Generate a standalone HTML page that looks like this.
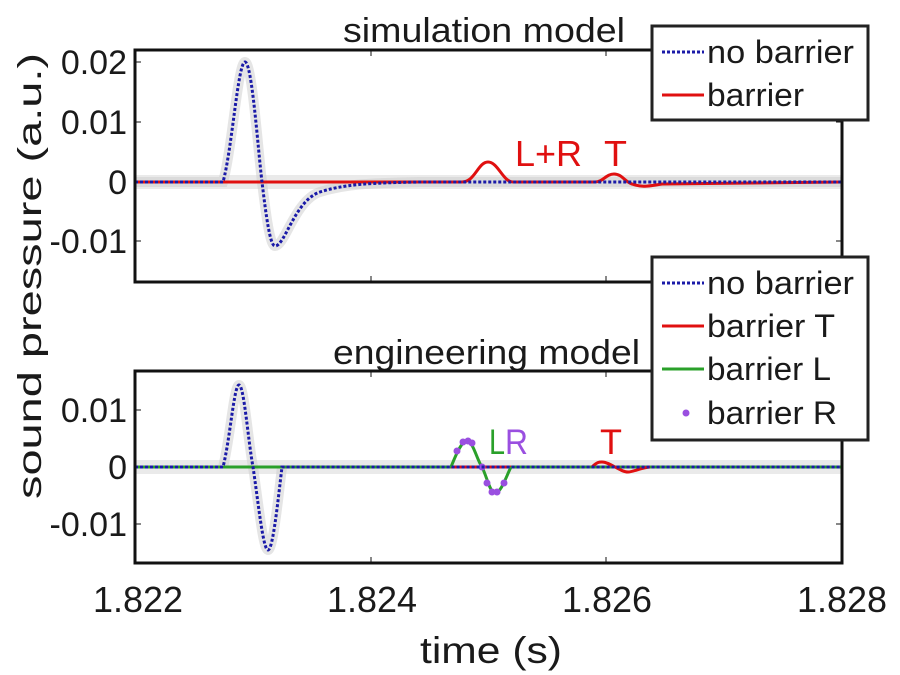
<!DOCTYPE html>
<html><head><meta charset="utf-8"><style>
html,body{margin:0;padding:0;background:#fff;width:900px;height:675px;overflow:hidden}
svg text{font-family:"Liberation Sans",sans-serif;fill:#1a1a1a}
</style></head><body>
<svg width="900" height="675" viewBox="0 0 900 675" xmlns="http://www.w3.org/2000/svg">
<!-- titles -->
<text x="343" y="42" font-size="34" textLength="282" lengthAdjust="spacingAndGlyphs">simulation model</text>
<text x="333" y="364" font-size="34" textLength="307" lengthAdjust="spacingAndGlyphs">engineering model</text>

<!-- top axes -->
<g>
<path d="M135 182 L842 182" stroke="#ddd" stroke-width="14" opacity="0.6"/>
<path d="M135 182 L223 182 C232 150,238 62,245 62 C252 62,258 150,262 182 C266 215,270 246,275 246 C285 246,295 200,320 192 S370 183,420 182 L842 182" stroke="#ccc" stroke-width="10" fill="none" opacity="0.5"/>
<path d="M135 182 L462 182 C475 182,478 162,488 162 C498 162,503 182,513 182 L595 182 C603 182,606 174,614 174 C622 174,625 182,632 184 C640 187,645 187,662 184 L842 182" stroke="#e01010" stroke-width="3" fill="none"/>
<path d="M135 182 L223 182 C232 150,238 62,245 62 C252 62,258 150,262 182 C266 215,270 246,275 246 C285 246,295 200,320 192 S370 183,420 182 L842 182" stroke="#1a1aa8" stroke-width="3" stroke-dasharray="3 2" fill="none"/>
<rect x="135" y="50" width="707" height="232" fill="none" stroke="#111" stroke-width="3"/>
<g stroke="#111" stroke-width="1">
<line x1="135" y1="62" x2="141" y2="62"/><line x1="135" y1="122" x2="141" y2="122"/><line x1="135" y1="241" x2="141" y2="241"/>
<line x1="842" y1="122" x2="836" y2="122"/><line x1="842" y1="241" x2="836" y2="241"/>
<line x1="371" y1="282" x2="371" y2="276"/><line x1="606" y1="282" x2="606" y2="276"/>
<line x1="371" y1="50" x2="371" y2="56"/><line x1="606" y1="50" x2="606" y2="56"/>
</g>
<text x="515" y="166" font-size="36" style="fill:#e01010" textLength="67" lengthAdjust="spacingAndGlyphs">L+R</text>
<text x="604" y="166" font-size="36" style="fill:#e01010" textLength="23" lengthAdjust="spacingAndGlyphs">T</text>
</g>

<!-- bottom axes -->
<g>
<path d="M135 467 L842 467" stroke="#ddd" stroke-width="14" opacity="0.6"/>
<path d="M223 467 C230 440,234 385,239 385 C244 385,248 440,253 467 C258 500,263 550,268 550 C273 550,278 500,282 467" stroke="#ccc" stroke-width="10" fill="none" opacity="0.5"/>
<path d="M135 467 L842 467" stroke="#2aa02a" stroke-width="3"/>
<path d="M451 467 L511 467" stroke="#e01010" stroke-width="3"/>
<path d="M592 467 C597 462,599 462,602 462 C610 462,620 472,628 472 C633 472,640 468,650 467" stroke="#e01010" stroke-width="3" fill="none"/>
<path d="M451 467 C457 452,462 441,467 441 C473 441,477 460,482 467 C487 477,490 493,495 493 C501 493,506 477,511 467" stroke="#2aa02a" stroke-width="3" fill="none"/>
<g fill="#9a4fe0">
<circle cx="457" cy="451" r="3.5"/><circle cx="463" cy="442" r="3.5"/><circle cx="468" cy="441" r="3.5"/><circle cx="472" cy="443" r="3.5"/>
<circle cx="482" cy="467" r="3.5"/><circle cx="487" cy="483" r="3.5"/><circle cx="492" cy="492" r="3.5"/><circle cx="497" cy="492" r="3.5"/><circle cx="504" cy="483" r="3.5"/>
</g>
<path d="M135 467 L223 467 C230 440,234 385,239 385 C244 385,248 440,253 467 C258 500,263 550,268 550 C273 550,278 500,282 467 L842 467" stroke="#1a1aa8" stroke-width="3" stroke-dasharray="3 2" fill="none"/>
<rect x="135" y="371" width="707" height="192" fill="none" stroke="#111" stroke-width="3"/>
<g stroke="#111" stroke-width="1">
<line x1="135" y1="410" x2="141" y2="410"/><line x1="135" y1="524" x2="141" y2="524"/>
<line x1="842" y1="410" x2="836" y2="410"/><line x1="842" y1="524" x2="836" y2="524"/>
<line x1="371" y1="563" x2="371" y2="557"/><line x1="606" y1="563" x2="606" y2="557"/>
<line x1="371" y1="371" x2="371" y2="377"/><line x1="606" y1="371" x2="606" y2="377"/>
</g>
<text x="489" y="454" font-size="35" style="fill:#2aa02a" textLength="16" lengthAdjust="spacingAndGlyphs">L</text>
<text x="505" y="454" font-size="35" style="fill:#9a4fe0" textLength="23" lengthAdjust="spacingAndGlyphs">R</text>
<text x="600" y="454" font-size="35" style="fill:#e01010" textLength="22" lengthAdjust="spacingAndGlyphs">T</text>
</g>

<!-- legend 1 -->
<rect x="652" y="26" width="216" height="94" fill="#fff" stroke="#222" stroke-width="3"/>
<line x1="662" y1="52" x2="704" y2="52" stroke="#1a1aa8" stroke-width="3" stroke-dasharray="3 2"/>
<line x1="662" y1="95" x2="704" y2="95" stroke="#e01010" stroke-width="3"/>
<text x="707" y="63" font-size="32" textLength="147" lengthAdjust="spacingAndGlyphs">no barrier</text>
<text x="707" y="106" font-size="32" textLength="97" lengthAdjust="spacingAndGlyphs">barrier</text>

<!-- legend 2 -->
<rect x="652" y="257" width="216" height="183" fill="#fff" stroke="#222" stroke-width="3"/>
<line x1="662" y1="283" x2="704" y2="283" stroke="#1a1aa8" stroke-width="3" stroke-dasharray="3 2"/>
<line x1="662" y1="326" x2="704" y2="326" stroke="#e01010" stroke-width="3"/>
<line x1="662" y1="369" x2="704" y2="369" stroke="#2aa02a" stroke-width="3"/>
<circle cx="686" cy="413" r="3.5" fill="#9a4fe0"/>
<text x="707" y="294" font-size="32" textLength="147" lengthAdjust="spacingAndGlyphs">no barrier</text>
<text x="707" y="337" font-size="32" textLength="128" lengthAdjust="spacingAndGlyphs">barrier T</text>
<text x="707" y="380" font-size="32" textLength="124" lengthAdjust="spacingAndGlyphs">barrier L</text>
<text x="707" y="424" font-size="32" textLength="130" lengthAdjust="spacingAndGlyphs">barrier R</text>

<!-- y tick labels -->
<g font-size="34" text-anchor="end">
<text x="127" y="74">0.02</text>
<text x="127" y="134">0.01</text>
<text x="127" y="194">0</text>
<text x="127" y="253">-0.01</text>
<text x="127" y="422">0.01</text>
<text x="127" y="479">0</text>
<text x="127" y="536">-0.01</text>
</g>
<!-- x tick labels -->
<g font-size="36">
<text x="93" y="612" textLength="90" lengthAdjust="spacingAndGlyphs">1.822</text>
<text x="327" y="612" textLength="90" lengthAdjust="spacingAndGlyphs">1.824</text>
<text x="562" y="612" textLength="90" lengthAdjust="spacingAndGlyphs">1.826</text>
<text x="797" y="612" textLength="90" lengthAdjust="spacingAndGlyphs">1.828</text>
</g>
<text x="420" y="663" font-size="37" textLength="142" lengthAdjust="spacingAndGlyphs">time (s)</text>
<text transform="translate(41,276) rotate(-90)" text-anchor="middle" font-size="33" textLength="446" lengthAdjust="spacingAndGlyphs">sound pressure (a.u.)</text>
</svg>
</body></html>
